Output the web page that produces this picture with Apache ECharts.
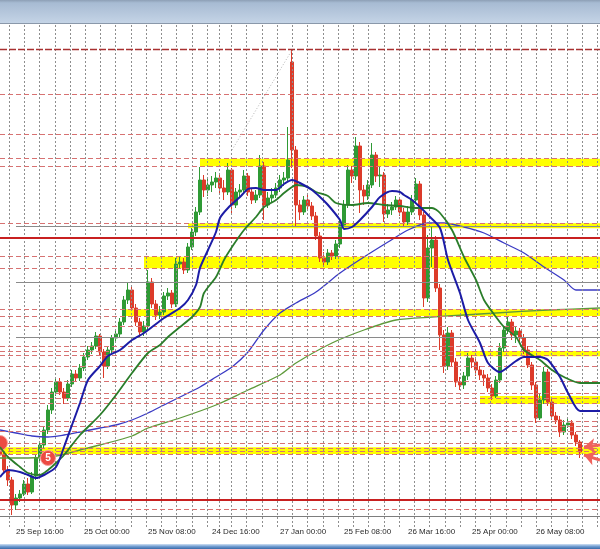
<!DOCTYPE html>
<html><head><meta charset="utf-8">
<script src="https://cdn.jsdelivr.net/npm/echarts/dist/echarts.min.js"></script>
<style>html,body{margin:0;padding:0;background:#fff;}#c{width:600px;height:549px;}</style>
</head><body><div id="c"></div>
<script>
// ---- x-axis (4H bars) ----
const barCount = 151;
const tickIndex = [4, 21, 37, 53, 70, 86, 102, 118, 134];
const tickLabels = ['25 Sep 16:00','25 Oct 00:00','25 Nov 08:00','24 Dec 16:00','27 Jan 00:00','25 Feb 08:00','26 Mar 16:00','25 Apr 00:00','26 May 08:00'];

// ---- candles ----
const opens = [
1.3606,1.3570,1.3525,1.3495,1.3420,1.3441,1.3453,1.3483,1.3459,1.3507,
1.3561,1.3600,1.3645,1.3705,1.3759,1.3789,1.3759,1.3741,1.3783,1.3813,
1.3801,1.3831,1.3864,1.3885,1.3897,1.3927,1.3879,1.3837,1.3885,1.3921,
1.3933,1.3969,1.4035,1.4065,1.4011,1.3969,1.3939,1.3957,1.4089,1.4023,
1.3990,1.3999,1.4047,1.4056,1.4023,1.4143,1.4149,1.4125,1.4194,1.4239,
1.4299,1.4395,1.4365,1.4380,1.4389,1.4401,1.4371,1.4359,1.4425,1.4320,
1.4359,1.4365,1.4407,1.4359,1.4335,1.4350,1.4437,1.4320,1.4341,1.4350,
1.4371,1.4395,1.4401,1.4749,1.4485,1.4320,1.4299,1.4335,1.4317,1.4287,
1.4227,1.4161,1.4149,1.4176,1.4167,1.4203,1.4260,1.4320,1.4425,1.4407,
1.4497,1.4365,1.4347,1.4380,1.4470,1.4407,1.4410,1.4293,1.4305,1.4314,
1.4335,1.4299,1.4269,1.4299,1.4335,1.4383,1.4290,1.4041,1.4191,1.4215,
1.4071,1.3930,1.3837,1.3936,1.3849,1.3789,1.3780,1.3807,1.3861,1.3849,
1.3825,1.3810,1.3801,1.3771,1.3747,1.3795,1.3891,1.3945,1.3969,1.3930,
1.3942,1.3921,1.3885,1.3840,1.3780,1.3681,1.3735,1.3819,1.3729,1.3687,
1.3675,1.3639,1.3660,1.3666,1.3630,1.3609];
const closes = [
1.3570,1.3525,1.3495,1.3420,1.3441,1.3453,1.3483,1.3459,1.3507,1.3561,
1.3600,1.3645,1.3705,1.3759,1.3789,1.3759,1.3741,1.3783,1.3813,1.3801,
1.3831,1.3864,1.3885,1.3897,1.3927,1.3879,1.3837,1.3885,1.3921,1.3933,
1.3969,1.4035,1.4065,1.4011,1.3969,1.3939,1.3957,1.4089,1.4023,1.3990,
1.3999,1.4047,1.4056,1.4023,1.4143,1.4149,1.4125,1.4194,1.4239,1.4299,
1.4395,1.4365,1.4380,1.4389,1.4401,1.4371,1.4359,1.4425,1.4320,1.4359,
1.4365,1.4407,1.4359,1.4335,1.4350,1.4437,1.4320,1.4341,1.4350,1.4371,
1.4395,1.4401,1.4455,1.4485,1.4320,1.4299,1.4335,1.4317,1.4287,1.4227,
1.4161,1.4149,1.4176,1.4167,1.4203,1.4260,1.4320,1.4425,1.4407,1.4497,
1.4365,1.4347,1.4380,1.4470,1.4407,1.4410,1.4293,1.4305,1.4314,1.4335,
1.4299,1.4269,1.4299,1.4335,1.4383,1.4290,1.4041,1.4191,1.4215,1.4071,
1.3930,1.3837,1.3936,1.3849,1.3789,1.3780,1.3807,1.3861,1.3849,1.3825,
1.3810,1.3801,1.3771,1.3747,1.3795,1.3891,1.3945,1.3969,1.3930,1.3942,
1.3921,1.3885,1.3840,1.3780,1.3681,1.3735,1.3819,1.3729,1.3687,1.3675,
1.3639,1.3660,1.3666,1.3630,1.3609,1.3579];
const lows = [
1.3555,1.3516,1.3477,1.3390,1.3405,1.3429,1.3447,1.3450,1.3453,1.3495,
1.3552,1.3591,1.3633,1.3693,1.3747,1.3750,1.3723,1.3732,1.3774,1.3789,
1.3792,1.3822,1.3855,1.3873,1.3888,1.3867,1.3801,1.3828,1.3876,1.3912,
1.3924,1.3960,1.4023,1.4002,1.3957,1.3924,1.3927,1.3945,1.4011,1.3975,
1.3978,1.3990,1.4035,1.4011,1.4014,1.4131,1.4113,1.4116,1.4185,1.4227,
1.4290,1.4344,1.4347,1.4359,1.4371,1.4353,1.4335,1.4350,1.4296,1.4311,
1.4344,1.4356,1.4347,1.4323,1.4326,1.4341,1.4275,1.4311,1.4329,1.4341,
1.4359,1.4377,1.4392,1.4431,1.4254,1.4275,1.4290,1.4305,1.4275,1.4215,
1.4149,1.4134,1.4140,1.4155,1.4158,1.4191,1.4248,1.4311,1.4386,1.4395,
1.4296,1.4320,1.4335,1.4371,1.4389,1.4374,1.4269,1.4281,1.4290,1.4305,
1.4287,1.4254,1.4260,1.4290,1.4323,1.4275,1.4014,1.4029,1.4134,1.4059,
1.3885,1.3816,1.3825,1.3837,1.3774,1.3765,1.3768,1.3795,1.3831,1.3807,
1.3795,1.3777,1.3759,1.3735,1.3741,1.3786,1.3879,1.3933,1.3915,1.3906,
1.3909,1.3873,1.3831,1.3765,1.3666,1.3675,1.3723,1.3717,1.3675,1.3663,
1.3624,1.3630,1.3651,1.3618,1.3597,1.3561];
const highs = [
1.3615,1.3579,1.3537,1.3504,1.3453,1.3465,1.3495,1.3501,1.3519,1.3570,
1.3612,1.3657,1.3720,1.3771,1.3804,1.3801,1.3771,1.3795,1.3825,1.3825,
1.3843,1.3876,1.3897,1.3909,1.3939,1.3933,1.3888,1.3894,1.3930,1.3948,
1.3981,1.4047,1.4086,1.4074,1.4023,1.3981,1.3972,1.4125,1.4101,1.4035,
1.4017,1.4059,1.4071,1.4065,1.4161,1.4167,1.4161,1.4206,1.4251,1.4314,
1.4434,1.4410,1.4398,1.4407,1.4419,1.4410,1.4395,1.4446,1.4431,1.4371,
1.4383,1.4425,1.4416,1.4371,1.4365,1.4470,1.4449,1.4359,1.4371,1.4386,
1.4410,1.4419,1.4554,1.4785,1.4497,1.4335,1.4347,1.4350,1.4329,1.4299,
1.4239,1.4179,1.4188,1.4185,1.4215,1.4275,1.4335,1.4440,1.4437,1.4524,
1.4509,1.4380,1.4395,1.4506,1.4479,1.4437,1.4419,1.4323,1.4329,1.4347,
1.4344,1.4311,1.4317,1.4350,1.4401,1.4392,1.4299,1.4230,1.4254,1.4227,
1.4083,1.3945,1.3954,1.3945,1.3861,1.3804,1.3819,1.3876,1.3870,1.3861,
1.3837,1.3825,1.3813,1.3783,1.3807,1.3906,1.3957,1.3984,1.3978,1.3954,
1.3951,1.3933,1.3897,1.3849,1.3789,1.3756,1.3834,1.3828,1.3741,1.3699,
1.3687,1.3675,1.3678,1.3675,1.3639,1.3615];

// ---- moving averages [bar, price] ----
const maFastBlue = [[0,1.3504],[2,1.3525],[5,1.3519],[7,1.3510],[9,1.3501],[11,1.3510],[14,1.3534],[16,1.3594],[18,1.3660],[20,1.3726],[22,1.3795],[25,1.3837],[27,1.3867],[30,1.3885],[33,1.3915],[36,1.3936],[38,1.3954],[41,1.3981],[45,1.4011],[47,1.4035],[49,1.4080],[50,1.4131],[52,1.4185],[54,1.4239],[55,1.4281],[57,1.4311],[60,1.4344],[62,1.4368],[64,1.4371],[66,1.4365],[69,1.4365],[71,1.4383],[73,1.4395],[75,1.4386],[78,1.4365],[80,1.4344],[82,1.4320],[85,1.4275],[86,1.4248],[88,1.4254],[90,1.4275],[93,1.4314],[95,1.4344],[98,1.4362],[100,1.4359],[101,1.4350],[103,1.4335],[105,1.4314],[107,1.4290],[110,1.4251],[112,1.4155],[115,1.4056],[117,1.3975],[120,1.3906],[122,1.3846],[125,1.3819],[126,1.3825],[129,1.3852],[131,1.3864],[135,1.3864],[137,1.3855],[140,1.3804],[142,1.3756],[145,1.3702],[150,1.3702]];
const maMidGreen = [[0,1.3594],[2,1.3564],[5,1.3534],[7,1.3516],[10,1.3510],[12,1.3525],[14,1.3546],[16,1.3570],[20,1.3630],[25,1.3690],[29,1.3750],[33,1.3816],[37,1.3876],[40,1.3900],[42,1.3924],[45,1.3954],[48,1.3984],[50,1.4014],[51,1.4056],[54,1.4104],[56,1.4155],[58,1.4194],[61,1.4245],[64,1.4284],[66,1.4314],[69,1.4335],[71,1.4356],[73,1.4374],[74,1.4380],[77,1.4374],[79,1.4359],[82,1.4347],[84,1.4326],[88,1.4320],[92,1.4326],[96,1.4320],[100,1.4317],[104,1.4311],[108,1.4311],[110,1.4296],[113,1.4245],[116,1.4164],[119,1.4095],[121,1.4035],[124,1.3984],[126,1.3954],[129,1.3924],[131,1.3885],[135,1.3855],[138,1.3825],[141,1.3804],[145,1.3786],[150,1.3786]];
const maSlowBlue = [[0,1.3645],[4,1.3636],[8,1.3627],[12,1.3624],[16,1.3630],[20,1.3639],[25,1.3651],[29,1.3660],[33,1.3675],[37,1.3696],[41,1.3720],[45,1.3744],[50,1.3774],[54,1.3804],[58,1.3834],[62,1.3879],[66,1.3945],[70,1.3996],[74,1.4026],[79,1.4059],[85,1.4116],[91,1.4164],[97,1.4209],[102,1.4245],[107,1.4266],[111,1.4266],[116,1.4254],[121,1.4236],[126,1.4206],[131,1.4176],[136,1.4134],[141,1.4095],[144,1.4065],[150,1.4065]];
const maSlowGreen = [[0,1.3561],[7,1.3561],[14,1.3567],[20,1.3585],[25,1.3600],[33,1.3627],[37,1.3651],[45,1.3681],[54,1.3720],[62,1.3765],[70,1.3810],[74,1.3846],[83,1.3906],[91,1.3945],[99,1.3975],[108,1.3984],[116,1.3990],[124,1.3996],[137,1.4005],[150,1.4011]];

// ---- horizontal levels ----
const levelsRedDashed = [1.4651,1.4531,1.4459,1.4436,1.4265,1.4165,1.4130,1.4007,1.3987,1.3955,1.3895,1.3882,1.3868,1.3837,1.3790,1.3755,1.3740,1.3725,1.3670,1.3655,1.3640,1.3605,1.3591,1.3582,1.3573,1.3408];
const levelsDarkRed = [1.4786];
const levelsRedSolid = [1.4222, 1.3437];
const levelsGray = [1.4255, 1.4088, 1.3923];
const zoneStart = [50, 47, 36, 31, 114, 120, 0];
const zoneTop = [1.4459, 1.4265, 1.4165, 1.4007, 1.3882, 1.3747, 1.3593];
const zoneBottom = [1.4436, 1.4250, 1.4130, 1.3987, 1.3866, 1.3723, 1.3573];
const trendLine = [[58, 1.4485], [73, 1.4785]];
const circles = [{bar: 0, price: 1.3606, text: ''}, {bar: 12, price: 1.3561, text: '5'}];
const arrows = [[[150, 1.3600], [146, 1.3594]], [[150, 1.3555], [146, 1.3570]]];

// ---- build ----
const cats = [];
for (let i = 0; i < barCount; i++) cats.push(String(i));
const candles = opens.map((o, i) => [o, closes[i], lows[i], highs[i]]);

// weekly vertical grid (decoration, px within plot)
const vLines = [];
for (let k = 0; k <= 13; k++) vLines.push({xAxis: 9 + 15.25 * k});
vLines.push({xAxis: 219.3});
for (let j = 0; j <= 24; j++) vLines.push({xAxis: 231.3 + 15.25 * j});

const hLines = [];
levelsRedDashed.forEach(v => hLines.push({yAxis: v, lineStyle: {color: '#d77272', type: [5, 3], width: 1}}));
levelsDarkRed.forEach(v => hLines.push({yAxis: v, lineStyle: {color: '#a83030', type: [7, 2], width: 1.4}}));
levelsRedSolid.forEach(v => hLines.push({yAxis: v, lineStyle: {color: '#c82020', type: 'solid', width: 2}}));
levelsGray.forEach(v => hLines.push([{coord: [4, v], lineStyle: {color: '#8a8a8a', type: 'solid', width: 1}}, {coord: [150, v]}]));
hLines.push([{coord: trendLine[0], lineStyle: {color: '#b5b5b5', type: [1, 2], width: 1}}, {coord: trendLine[1]}]);

const areas = zoneStart.map((s, i) => [{xAxis: s, yAxis: zoneTop[i]}, {xAxis: barCount - 1, yAxis: zoneBottom[i]}]);

function ma(name, data, color, width, z) {
  return {name, type: 'line', data, xAxisIndex: 0, yAxisIndex: 0, showSymbol: false, symbol: 'none',
    smooth: 0.25, lineStyle: {color, width}, z, silent: true};
}

const chart = echarts.init(document.getElementById('c'), null, {renderer: 'canvas'});
chart.setOption({
  animation: false,
  backgroundColor: '#ffffff',
  grid: [
    {left: 0, right: 0, top: 25, bottom: 33, outerBoundsMode: 'none', containLabel: false},
    {left: 0, right: 0, top: 25, bottom: 22, outerBoundsMode: 'none', containLabel: false}
  ],
  xAxis: [
    {type: 'category', gridIndex: 0, data: cats, boundaryGap: false,
      axisLine: {show: true, lineStyle: {color: '#7d7d7d', width: 1}},
      axisTick: {show: false}, splitLine: {show: false},
      axisLabel: {show: true, interval: (idx) => tickIndex.includes(idx),
        formatter: (v, idx) => { const k = tickIndex.indexOf(Number(v)); return k >= 0 ? tickLabels[k] : ''; },
        align: 'left', margin: 12, color: '#2a2a2a', fontSize: 8, fontFamily: '"Liberation Sans", Arial, sans-serif'}},
    {type: 'value', gridIndex: 1, min: 0, max: 600, show: false}
  ],
  yAxis: [
    {type: 'value', gridIndex: 0, min: 1.3387, max: 1.4860, show: false, scale: true},
    {type: 'value', gridIndex: 1, min: 0, max: 1, show: false}
  ],
  graphic: [
    {type: 'rect', shape: {x: 0, y: 0, width: 600, height: 24}, silent: true,
      style: {fill: new echarts.graphic.LinearGradient(0, 0, 0, 1, [
        {offset: 0, color: '#8d9fb5'}, {offset: 0.12, color: '#a7bbd3'}, {offset: 1, color: '#c6d5e7'}])}},
    {type: 'rect', shape: {x: 0, y: 23, width: 600, height: 1}, silent: true, style: {fill: '#8a98aa'}},
    {type: 'rect', shape: {x: 0, y: 544, width: 600, height: 5}, silent: true,
      style: {fill: new echarts.graphic.LinearGradient(0, 0, 0, 1, [
        {offset: 0, color: '#cfe0f4'}, {offset: 0.5, color: '#6f9bd0'}, {offset: 1, color: '#3a6aa8'}])}}
  ],
  series: [
    {name: 'zones', type: 'line', data: [], xAxisIndex: 0, yAxisIndex: 0, z: 1, silent: true,
      markArea: {silent: true, itemStyle: {color: '#ffff00', opacity: 1}, data: areas}},
    {name: 'vgrid', type: 'line', data: [], xAxisIndex: 1, yAxisIndex: 1, z: 2, silent: true,
      markLine: {silent: true, symbol: 'none', precision: 4, label: {show: false}, animation: false,
        lineStyle: {color: '#8e8e8e', type: [2, 2], width: 1}, data: vLines}},
    {name: 'levels', type: 'line', data: [], xAxisIndex: 0, yAxisIndex: 0, z: 2, silent: true,
      markLine: {silent: true, symbol: 'none', precision: 4, label: {show: false}, animation: false, data: hLines}},
    {name: 'price', type: 'candlestick', data: candles, xAxisIndex: 0, yAxisIndex: 0, z: 3, barWidth: 3,
      itemStyle: {color: '#2f9a35', color0: '#dc3b2a', borderColor: '#2f9a35', borderColor0: '#dc3b2a', borderWidth: 1},
      markPoint: {silent: true, symbol: 'circle', symbolSize: 15,
        itemStyle: {color: '#ec4a43', borderColor: '#f7a09a', borderWidth: 1},
        label: {show: true, color: '#ffffff', fontSize: 10, fontWeight: 'bold', fontFamily: 'Arial, sans-serif',
          formatter: p => p.data.text},
        data: circles.map(c => ({coord: [c.bar, c.price], text: c.text}))},
      markLine: {silent: true, symbol: ['none', 'arrow'], symbolSize: 11, precision: 4, label: {show: false}, animation: false,
        lineStyle: {color: '#f0625c', width: 3, type: 'solid'},
        data: arrows.map(a => [{coord: a[0]}, {coord: a[1]}])}},
    ma('slowGreen', maSlowGreen, '#5e9a3a', 1.3, 4),
    ma('slowBlue', maSlowBlue, '#3b3bc4', 1.3, 4),
    ma('midGreen', maMidGreen, '#2a7d2a', 1.8, 5),
    ma('fastBlue', maFastBlue, '#1c1ca6', 2, 6)
  ]
});
</script>
</body></html>
